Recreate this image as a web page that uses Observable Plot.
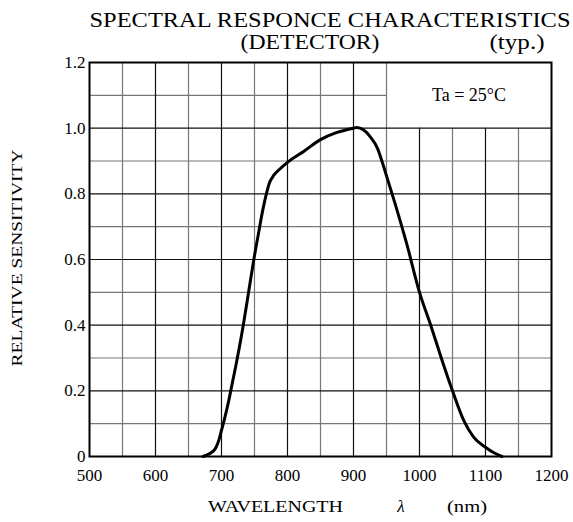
<!DOCTYPE html>
<html>
<head>
<meta charset="utf-8">
<script src="https://cdn.jsdelivr.net/npm/d3@7"></script>
<script src="https://cdn.jsdelivr.net/npm/@observablehq/plot@0.6"></script>
<style>
  html, body { margin: 0; padding: 0; background: white; }
  #chart { width: 573px; height: 522px; }
</style>
</head>
<body>
<div id="chart"></div>
<script>
// ---- data ----
const wavelength = [672, 683, 691, 696, 700, 704, 711, 714, 724, 733, 741, 749, 757, 762, 768, 773, 779, 788, 800, 825, 850, 875, 900, 905, 915, 926, 936, 943, 950, 963, 981, 1000, 1017, 1033, 1050, 1067, 1082, 1100, 1112, 1125];
const sensitivity = [0, 0.01, 0.025, 0.05, 0.08, 0.11, 0.17, 0.2, 0.3, 0.4, 0.5, 0.6, 0.69, 0.745, 0.8, 0.835, 0.856, 0.875, 0.896, 0.93, 0.965, 0.987, 1.0, 1.002, 0.995, 0.972, 0.94, 0.9, 0.855, 0.77, 0.645, 0.5, 0.4, 0.3, 0.2, 0.11, 0.059, 0.028, 0.012, 0];

const xTicks = [500, 600, 700, 800, 900, 1000, 1100, 1200];
const yTicks = [0, 0.2, 0.4, 0.6, 0.8, 1.0, 1.2];
const yTickLabels = ["0", "0.2", "0.4", "0.6", "0.8", "1.0", "1.2"];
const xMajorGrid = [600, 700, 800, 900, 1000, 1100];
const xMinorGrid = [550, 650, 750, 850, 950, 1050, 1150];
const yMajorGrid = [0.2, 0.4, 0.6, 0.8, 1.0];
const yMinorGrid = [0.1, 0.3, 0.5, 0.7, 0.9, 1.1];
// legend box (no grid inside): x from 950 to 1200, y from 1.0 to 1.2
const boxX = 950, boxY = 1.0;
const annotations = [{x: 1075, y: 1.1, text: "Ta = 25°C"}];

const titleLine1 = "SPECTRAL RESPONCE CHARACTERISTICS";
const titleLine2 = "(DETECTOR)";
const titleNote = "(typ.)";
const yLabel = "RELATIVE SENSITIVITY";

const curve = wavelength.map((w, i) => ({w, s: sensitivity[i]}));

const FONT = "'Liberation Serif', 'DejaVu Serif', serif";

const plot = Plot.plot({
  width: 573,
  height: 522,
  marginTop: 62,
  marginLeft: 89,
  marginRight: 22,
  marginBottom: 66,
  style: {fontFamily: FONT, fontSize: "17px", color: "black", background: "white"},
  x: {domain: [500, 1200], ticks: xTicks, tickFormat: d => String(d), tickSize: 0, tickPadding: 12, label: null},
  y: {domain: [0, 1.2], ticks: yTicks, tickFormat: d => yTickLabels[yTicks.indexOf(d)], tickSize: 0, tickPadding: 4, label: null},
  marks: [
    Plot.ruleX(xMinorGrid, {x: d => d, y1: 0, y2: d => d > boxX ? boxY : 1.2, stroke: "#777", strokeWidth: 1.2}),
    Plot.ruleY(yMinorGrid, {y: d => d, x1: 500, x2: d => d > boxY ? boxX : 1200, stroke: "#777", strokeWidth: 1.2}),
    Plot.ruleX(xMajorGrid, {x: d => d, y1: 0, y2: d => d > boxX ? boxY : 1.2, stroke: "#111", strokeWidth: 1.2}),
    Plot.ruleY(yMajorGrid, {y: d => d, x1: 500, x2: 1200, stroke: "#111", strokeWidth: 1.2}),
    Plot.line(curve, {x: "w", y: "s", curve: "monotone-x", stroke: "black", strokeWidth: 3}),
    Plot.text(annotations, {x: "x", y: "y", text: "text", fontSize: 18, fill: "black"}),
    Plot.frame({stroke: "black", strokeWidth: 2})
  ]
});

document.getElementById("chart").appendChild(plot);

const svg = d3.select(plot);
function addText(str, x, y, size, len, opts = {}) {
  const t = svg.append("text")
    .attr("x", x).attr("y", y)
    .attr("text-anchor", "middle")
    .attr("font-family", FONT)
    .attr("font-size", size)
    .attr("fill", "black")
    .text(str);
  if (len) t.attr("textLength", len).attr("lengthAdjust", "spacingAndGlyphs");
  if (opts.italic) t.attr("font-style", "italic");
  if (opts.rotate) t.attr("transform", `rotate(-90 ${x} ${y})`);
  return t;
}
addText(titleLine1, 330, 27, 21, 481);
addText(titleLine2, 310, 49, 21, 139);
addText(titleNote, 517, 49, 21, 55);
addText(yLabel, 22, 258, 15, 217, {rotate: true});
addText("WAVELENGTH", 275.5, 512, 16, 135);
addText("λ", 401, 512, 17, null, {italic: true});
addText("(nm)", 467, 512, 16, 40);
</script>
</body>
</html>
